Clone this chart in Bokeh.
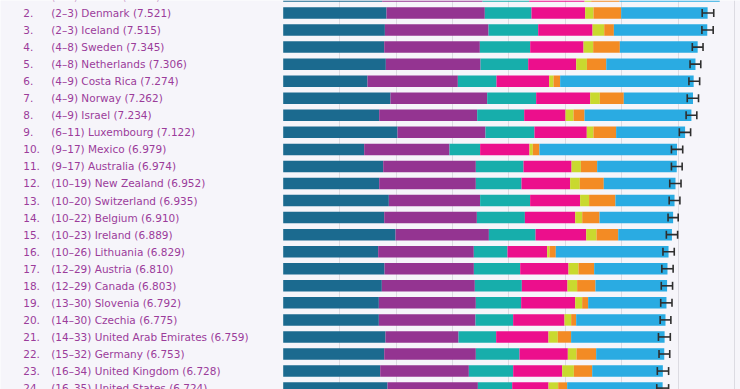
from bokeh.plotting import figure
from bokeh.models import Range1d, ColumnDataSource, FixedTicker
from bokeh.core.properties import value
from bokeh.embed import file_html
from bokeh.resources import INLINE

ranks = list(range(1, 25))
rank_ranges = ["1–1", "2–3", "2–3", "4–8", "4–8", "4–9", "4–9", "4–9", "6–11", "9–17",
               "9–17", "10–19", "10–20", "10–22", "10–23", "10–26", "12–29", "12–29",
               "13–30", "14–30", "14–33", "15–32", "16–34", "16–35"]
countries = ["Finland", "Denmark", "Iceland", "Sweden", "Netherlands", "Costa Rica", "Norway",
             "Israel", "Luxembourg", "Mexico", "Australia", "New Zealand", "Switzerland",
             "Belgium", "Ireland", "Lithuania", "Austria", "Canada", "Slovenia", "Czechia",
             "United Arab Emirates", "Germany", "United Kingdom", "United States"]
scores = [7.736, 7.521, 7.515, 7.345, 7.306, 7.274, 7.262, 7.234, 7.122, 6.979,
          6.974, 6.952, 6.935, 6.910, 6.889, 6.829, 6.810, 6.803, 6.792, 6.775,
          6.759, 6.753, 6.728, 6.724]

gdp = [1.754, 1.831, 1.802, 1.790, 1.819, 1.494, 1.902, 1.701, 2.026, 1.435,
       1.772, 1.701, 1.872, 1.790, 1.991, 1.683, 1.796, 1.748, 1.695, 1.695,
       1.813, 1.790, 1.719, 1.849]
social = [1.778, 1.742, 1.837, 1.695, 1.678, 1.601, 1.713, 1.737, 1.559, 1.512,
          1.642, 1.713, 1.618, 1.642, 1.654, 1.695, 1.583, 1.648, 1.719, 1.713,
          1.294, 1.624, 1.571, 1.601]
health = [0.827, 0.827, 0.880, 0.892, 0.845, 0.685, 0.868, 0.833, 0.868, 0.543,
          0.845, 0.809, 0.886, 0.851, 0.827, 0.597, 0.821, 0.833, 0.803, 0.667,
          0.667, 0.774, 0.786, 0.608]
freedom = [0.981, 0.951, 0.963, 0.945, 0.851, 0.933, 0.957, 0.732, 0.927, 0.874,
           0.851, 0.862, 0.886, 0.892, 0.898, 0.703, 0.856, 0.809, 0.957, 0.910,
           0.927, 0.856, 0.868, 0.644]
generosity = [0.118, 0.148, 0.207, 0.171, 0.189, 0.077, 0.171, 0.142, 0.118, 0.059,
              0.165, 0.171, 0.159, 0.124, 0.183, 0.041, 0.177, 0.171, 0.124, 0.118,
              0.165, 0.154, 0.207, 0.171]
corruption = [0.502, 0.490, 0.171, 0.473, 0.343, 0.118, 0.425, 0.195, 0.402, 0.118,
              0.289, 0.425, 0.467, 0.307, 0.384, 0.112, 0.278, 0.325, 0.106, 0.089,
              0.236, 0.348, 0.325, 0.159]
dystopia = [1.776, 1.532, 1.655, 1.379, 1.581, 2.366, 1.226, 1.894, 1.222, 2.438,
            1.410, 1.271, 1.047, 1.304, 0.952, 1.998, 1.299, 1.269, 1.388, 1.583,
            1.657, 1.207, 1.252, 1.692]
ci_low = [7.64, 7.425, 7.42, 7.25, 7.21, 7.19, 7.16, 7.14, 7.02, 6.88,
          6.88, 6.85, 6.84, 6.82, 6.79, 6.73, 6.71, 6.70, 6.69, 6.68,
          6.65, 6.66, 6.63, 6.62]
ci_high = [7.84, 7.63, 7.62, 7.44, 7.40, 7.38, 7.36, 7.33, 7.22, 7.08,
           7.07, 7.05, 7.03, 7.00, 6.99, 6.93, 6.91, 6.90, 6.89, 6.87,
           6.86, 6.85, 6.83, 6.83]
grid_ticks = [1, 2, 3, 4, 5, 6, 7, 8]

factors = ["gdp", "social", "health", "freedom", "generosity", "corruption", "dystopia"]
colors = ["#1b6a8f", "#943491", "#17aeab", "#ec0f8c", "#c9d92f", "#f38b24", "#2aabe2"]

src = ColumnDataSource(dict(
    rank=ranks, gdp=gdp, social=social, health=health, freedom=freedom,
    generosity=generosity, corruption=corruption, dystopia=dystopia,
    lo=ci_low, hi=ci_high,
    num=[f"{r}." for r in ranks],
    label=[f"({rr}) {c} ({s:.3f})" for rr, c, s in zip(rank_ranges, countries, scores)],
    zero=[0] * len(ranks),
))

p = figure(width=740, height=389, output_backend="svg", toolbar_location=None,
           x_range=Range1d(-5.010, 8.104), y_range=Range1d(24.082, 1.267),
           min_border=0, background_fill_color="#f6f5fa", border_fill_color="#f6f5fa",
           outline_line_color=None)
p.xaxis.visible = False
p.yaxis.visible = False
p.ygrid.visible = False
p.xaxis.ticker = FixedTicker(ticks=grid_ticks)
p.xgrid.ticker = FixedTicker(ticks=grid_ticks)
p.xgrid.grid_line_color = "#dcdbe2"
p.xgrid.grid_line_width = 1

p.hbar_stack(factors, y="rank", height=0.675, color=colors, source=src, line_color=None)

p.segment(x0="lo", x1="hi", y0="rank", y1="rank", source=src, line_color="#2e2e2e", line_width=1.6)
p.rect(x="lo", y="rank", width=1.6, height=8, width_units="screen", height_units="screen",
       source=src, fill_color="#2e2e2e", line_color=None)
p.rect(x="hi", y="rank", width=1.6, height=8, width_units="screen", height_units="screen",
       source=src, fill_color="#2e2e2e", line_color=None)

p.text(x="zero", y="rank", text="num", source=src, x_offset=-260,
       text_font=value("DejaVu Sans"), text_font_size="10.5px", text_color="#9b3c9a",
       text_baseline="middle", text_align="left")
p.text(x="zero", y="rank", text="label", source=src, x_offset=-232,
       text_font=value("DejaVu Sans"), text_font_size="10.5px", text_color="#9b3c9a",
       text_baseline="middle", text_align="left")

open("out.html", "w").write(file_html(p, INLINE))
